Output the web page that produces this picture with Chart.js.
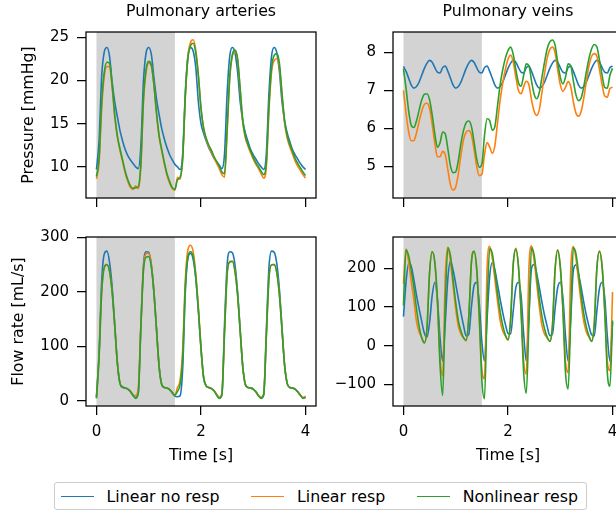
<!DOCTYPE html>
<html>
<head>
<meta charset="utf-8">
<script src="https://cdn.jsdelivr.net/npm/chart.js@4.4.1/dist/chart.umd.min.js"></script>
<style>
  html, body { margin: 0; padding: 0; background: #fff; }
  body { width: 616px; height: 512px; position: relative; overflow: hidden; font-family: "DejaVu Sans", sans-serif; }
  canvas { position: absolute; }
  #legend {
    position: absolute; left: 54px; top: 482px; height: 28px;
    box-sizing: border-box; border: 1px solid #cccccc; border-radius: 3px;
    display: inline-flex; align-items: center; padding: 0 8px 0 6px;
    font-size: 15.8px; color: #000; white-space: nowrap;
  }
  #legend .item { display: flex; align-items: center; margin-right: 32px; }
  #legend .item:last-child { margin-right: 0; }
  #legend .swatch { width: 33px; height: 0; border-top: 1.6px solid; margin-right: 12.5px; }
</style>
</head>
<body>
<canvas id="paPressure" width="320" height="215" style="left:0;top:0"></canvas>
<canvas id="pvPressure" width="330" height="215" style="left:300px;top:0"></canvas>
<canvas id="paFlow" width="320" height="250" style="left:0;top:220px"></canvas>
<canvas id="pvFlow" width="330" height="250" style="left:300px;top:220px"></canvas>
<div id="legend"></div>
<script>
const FONT = 'DejaVu Sans';
const TICK_SIZE = 15;
const LABEL_SIZE = 15.8;

const seriesNames = ['Linear no resp', 'Linear resp', 'Nonlinear resp'];
const seriesColors = ['#1f77b4', '#ff7f0e', '#2ca02c'];

// breath-hold window shaded in grey
const shadeStart = 0;
const shadeEnd = 1.5;

const timeTicks = [0, 2, 4];
const pressurePaTicks = [10, 15, 20, 25];
const pressurePvTicks = [5, 6, 7, 8];
const flowPaTicks = [0, 100, 200, 300];
const flowPvTicks = [-100, 0, 100, 200];

// sample times [s]
const time = [
  0, 0.05, 0.1, 0.15, 0.2, 0.25, 0.3, 0.35, 0.4, 0.45,
  0.5, 0.55, 0.6, 0.65, 0.7, 0.75, 0.8, 0.85, 0.9, 0.95,
  1, 1.05, 1.1, 1.15, 1.2, 1.25, 1.3, 1.35, 1.4, 1.45,
  1.5, 1.55, 1.6, 1.65, 1.7, 1.75, 1.8, 1.85, 1.9, 1.95,
  2, 2.05, 2.1, 2.15, 2.2, 2.25, 2.3, 2.35, 2.4, 2.45,
  2.5, 2.55, 2.6, 2.65, 2.7, 2.75, 2.8, 2.85, 2.9, 2.95,
  3, 3.05, 3.1, 3.15, 3.2, 3.25, 3.3, 3.35, 3.4, 3.45,
  3.5, 3.55, 3.6, 3.65, 3.7, 3.75, 3.8, 3.85, 3.9, 3.95,
  4
];

// pulmonary artery pressure [mmHg]
const paPressureLinNoResp = [
  9.7, 13.0, 20.5, 23.3, 23.8, 22.8, 19.8, 17.5, 15.8, 14.2,
  13.0, 12.0, 11.3, 10.8, 10.4, 10.0, 9.8, 12.5, 20.0, 23.2,
  23.8, 23.0, 20.3, 17.8, 16.0, 14.4, 13.2, 12.2, 11.4, 10.8,
  10.3, 10.0, 9.7, 11.5, 18.5, 22.8, 23.8, 23.4, 21.5, 17.5,
  15.0, 13.9, 13.0, 12.2, 11.6, 11.0, 10.6, 10.2, 9.8, 11.5,
  18.5, 22.8, 23.8, 23.2, 21.0, 17.5, 15.3, 13.9, 12.9, 12.0,
  11.4, 10.9, 10.4, 10.0, 9.7, 11.5, 18.5, 22.8, 23.8, 23.2,
  21.0, 17.5, 15.3, 13.9, 12.9, 12.0, 11.4, 10.9, 10.4, 10.0,
  9.7
];
const paPressureLinResp = [
  8.6, 10.5, 16.8, 20.5, 21.6, 21.6, 19.2, 15.8, 13.4, 11.9,
  10.6, 9.3, 8.3, 7.6, 7.4, 7.8, 7.5, 10.0, 17.6, 21.0,
  22.0, 21.7, 19.4, 16.0, 13.4, 11.8, 10.3, 9.0, 8.1, 7.5,
  7.3, 8.8, 8.6, 11.0, 18.0, 22.8, 24.4, 24.7, 23.5, 20.6,
  16.7, 14.4, 13.2, 12.3, 11.7, 11.0, 10.4, 9.8, 9.1, 8.8,
  14.0, 20.2, 22.8, 23.3, 22.4, 18.8, 15.1, 13.3, 12.4, 11.6,
  10.9, 10.3, 9.8, 9.2, 8.7, 10.0, 16.5, 21.0, 22.3, 22.5,
  21.5, 18.2, 15.0, 13.3, 12.3, 11.5, 10.7, 10.1, 9.6, 9.1,
  8.7
];
const paPressureNonlinResp = [
  8.9, 11.0, 17.5, 21.0, 22.1, 22.0, 19.5, 16.0, 13.6, 12.1,
  10.8, 9.5, 8.5, 7.8, 7.5, 7.6, 7.7, 10.5, 18.0, 21.3,
  22.2, 21.8, 19.5, 16.2, 13.6, 12.0, 10.5, 9.2, 8.3, 7.6,
  7.4, 8.5, 8.8, 11.0, 18.3, 22.6, 24.0, 24.3, 23.2, 20.5,
  16.8, 14.5, 13.3, 12.5, 11.9, 11.2, 10.6, 10.1, 9.4, 9.2,
  14.5, 20.5, 23.0, 23.5, 22.5, 19.0, 15.3, 13.5, 12.6, 11.8,
  11.1, 10.5, 10.0, 9.5, 9.1, 10.5, 17.0, 21.5, 22.9, 23.1,
  22.0, 18.5, 15.3, 13.6, 12.6, 11.8, 11.0, 10.4, 9.9, 9.4,
  9.0
];

// pulmonary vein pressure [mmHg]
const pvPressureLinNoResp = [
  7.63, 7.50, 7.32, 7.14, 7.06, 7.10, 7.22, 7.40, 7.58, 7.72,
  7.79, 7.74, 7.60, 7.48, 7.46, 7.60, 7.64, 7.50, 7.32, 7.14,
  7.06, 7.10, 7.22, 7.40, 7.58, 7.72, 7.79, 7.74, 7.60, 7.48,
  7.46, 7.60, 7.64, 7.50, 7.32, 7.14, 7.06, 7.10, 7.22, 7.40,
  7.58, 7.72, 7.79, 7.74, 7.60, 7.48, 7.46, 7.60, 7.64, 7.50,
  7.32, 7.14, 7.06, 7.10, 7.22, 7.40, 7.58, 7.72, 7.79, 7.74,
  7.60, 7.48, 7.46, 7.60, 7.64, 7.50, 7.32, 7.14, 7.06, 7.10,
  7.22, 7.40, 7.58, 7.72, 7.79, 7.74, 7.60, 7.48, 7.46, 7.60,
  7.64
];
const pvPressureLinResp = [
  7.00, 6.40, 5.90, 5.67, 5.68, 5.88, 6.18, 6.45, 6.63, 6.66,
  6.52, 6.10, 5.60, 5.25, 5.25, 5.39, 5.30, 4.90, 4.50, 4.37,
  4.45, 4.80, 5.30, 5.70, 5.90, 5.94, 5.82, 5.45, 5.00, 4.75,
  4.78, 5.30, 5.62, 5.50, 5.34, 5.55, 6.15, 6.75, 7.20, 7.55,
  7.82, 7.93, 7.75, 7.35, 7.00, 6.91, 7.10, 7.24, 7.15, 6.75,
  6.45, 6.34, 6.50, 6.95, 7.45, 7.85, 8.08, 8.14, 8.00, 7.55,
  7.15, 6.97, 7.08, 7.23, 7.10, 6.70, 6.40, 6.32, 6.45, 6.80,
  7.25, 7.65, 7.90, 7.97, 7.90, 7.55, 7.15, 6.85, 6.82, 7.05,
  7.08
];
const pvPressureNonlinResp = [
  7.57, 7.05, 6.45, 6.07, 6.02, 6.20, 6.48, 6.75, 6.90, 6.91,
  6.75, 6.35, 5.85, 5.50, 5.62, 5.90, 5.85, 5.45, 5.00, 4.83,
  4.85, 5.15, 5.60, 5.95, 6.15, 6.19, 6.05, 5.65, 5.20, 4.97,
  5.05, 5.80, 6.25, 6.20, 5.95, 6.05, 6.60, 7.15, 7.55, 7.85,
  8.05, 8.14, 7.95, 7.55, 7.20, 7.11, 7.40, 7.70, 7.65, 7.25,
  6.90, 6.78, 6.95, 7.35, 7.75, 8.10, 8.28, 8.33, 8.20, 7.75,
  7.35, 7.17, 7.35, 7.70, 7.65, 7.25, 6.88, 6.73, 6.80, 7.10,
  7.50, 7.85, 8.10, 8.21, 8.15, 7.80, 7.40, 7.08, 7.06, 7.40,
  7.58
];

// pulmonary artery flow rate [mL/s]
const paFlowLinNoResp = [
  7, 90, 220, 270, 275, 255, 210, 140, 70, 32,
  25, 24, 22, 17, 10, 6, 15, 140, 250, 274,
  273, 250, 200, 130, 62, 30, 25, 24, 21, 15,
  9, 8, 10, 60, 200, 262, 271, 260, 225, 165,
  95, 42, 28, 25, 23, 19, 12, 6, 12, 140,
  250, 274, 272, 250, 200, 130, 62, 30, 25, 24,
  22, 17, 10, 6, 12, 130, 245, 275, 273, 252,
  205, 135, 65, 32, 25, 24, 22, 17, 11, 6,
  8
];
const paFlowLinResp = [
  7, 82, 202, 246, 251, 238, 200, 138, 70, 33,
  26, 24, 22, 18, 11, 10, 24, 138, 246, 270,
  271, 250, 200, 130, 62, 30, 25, 24, 21, 16,
  11, 25, 38, 95, 222, 278, 286, 274, 234, 170,
  98, 44, 28, 25, 23, 19, 12, 7, 14, 127,
  235, 256, 257, 239, 195, 128, 62, 30, 25, 24,
  22, 17, 10, 7, 13, 120, 226, 250, 251, 236,
  195, 130, 65, 32, 25, 24, 22, 17, 11, 7,
  9
];
const paFlowNonlinResp = [
  5, 80, 200, 245, 250, 238, 200, 138, 70, 33,
  26, 24, 22, 18, 11, 5, 15, 135, 240, 264,
  265, 246, 198, 130, 62, 30, 25, 24, 21, 16,
  11, 18, 30, 80, 210, 265, 274, 265, 228, 168,
  97, 44, 28, 25, 23, 19, 11, 5, 12, 125,
  232, 255, 256, 238, 195, 128, 62, 30, 25, 24,
  22, 17, 10, 5, 12, 118, 225, 250, 250, 235,
  195, 130, 65, 32, 25, 24, 22, 17, 11, 5,
  6
];

// pulmonary vein flow rate [mL/s]
const pvFlowLinNoResp = [
  75, 165, 213, 205, 170, 130, 95, 62, 32, 22,
  60, 130, 164, 120, 20, -40, 60, 175, 219, 195,
  160, 122, 85, 52, 25, 30, 100, 155, 164, 110,
  10, -40, 70, 180, 215, 195, 158, 120, 85, 55,
  32, 30, 90, 150, 164, 130, 30, -40, 80, 200,
  210, 185, 150, 112, 78, 50, 26, 30, 95, 150,
  164, 125, 25, -40, 70, 195, 209, 185, 150, 112,
  78, 50, 28, 25, 90, 148, 164, 125, 25, -40,
  60
];
const pvFlowLinResp = [
  160, 250, 215, 165, 117, 62, 35, 22, 8, 45,
  190, 243, 215, 110, -30, -78, 180, 255, 215, 155,
  95, 50, 30, 20, 12, 75, 215, 244, 200, 70,
  -60, -86, 200, 257, 225, 170, 115, 65, 38, 25,
  15, 65, 210, 252, 205, 90, -40, -74, 200, 258,
  220, 160, 100, 52, 30, 20, 12, 50, 195, 248,
  205, 95, -40, -70, 195, 256, 225, 168, 110, 62,
  35, 22, 12, 55, 200, 245, 205, 90, -40, -65,
  139
];
const pvFlowNonlinResp = [
  104, 248, 232, 195, 150, 95, 50, 20, 7, 45,
  190, 243, 215, 120, -50, -129, 110, 253, 232, 170,
  112, 65, 38, 20, 15, 75, 215, 244, 200, 80,
  -90, -137, 95, 251, 238, 190, 135, 88, 52, 28,
  15, 70, 210, 249, 205, 90, -70, -123, 60, 253,
  235, 180, 122, 76, 43, 22, 11, 50, 195, 246,
  205, 95, -70, -112, 70, 253, 238, 188, 132, 82,
  48, 25, 11, 55, 200, 243, 205, 95, -70, -105,
  65
];

Chart.defaults.font.family = FONT;
Chart.defaults.font.size = TICK_SIZE;
Chart.defaults.color = '#000';

const shadePlugin = {
  id: 'shade',
  beforeDatasetsDraw(chart, args, opts) {
    const {ctx, chartArea: a, scales: {x}} = chart;
    const x0 = x.getPixelForValue(opts.from);
    const x1 = x.getPixelForValue(opts.to);
    ctx.save();
    ctx.fillStyle = opts.color;
    ctx.fillRect(x0, a.top, x1 - x0, a.bottom - a.top);
    ctx.restore();
  }
};

// box around the plot area (all four spines)
const framePlugin = {
  id: 'frame',
  afterDatasetsDraw(chart, args, opts) {
    const {ctx, chartArea: a} = chart;
    ctx.save();
    ctx.strokeStyle = '#000';
    ctx.lineWidth = opts.width;
    ctx.strokeRect(a.left, a.top, a.right - a.left, a.bottom - a.top);
    ctx.restore();
  }
};

const titlePlugin = {
  id: 'panelTitle',
  afterDraw(chart, args, opts) {
    if (!opts.text) return;
    const {ctx, chartArea: a} = chart;
    ctx.save();
    ctx.font = LABEL_SIZE + 'px "' + FONT + '"';
    ctx.fillStyle = '#000';
    ctx.textAlign = 'center';
    ctx.textBaseline = 'middle';
    ctx.fillText(opts.text, (a.left + a.right) / 2, opts.y);
    ctx.restore();
  }
};

const minusSign = v => String(v).replace('-', '\u2212');

function makePanel(id, cfg) {
  const datasets = cfg.series.map((vals, i) => ({
    label: seriesNames[i],
    data: time.map((t, k) => ({x: t, y: vals[k]})),
    borderColor: seriesColors[i],
    borderWidth: 1.6,
    pointRadius: 0,
    cubicInterpolationMode: 'monotone',
    order: 3 - i
  }));

  new Chart(document.getElementById(id), {
    type: 'line',
    data: {datasets},
    options: {
      responsive: false,
      animation: false,
      events: [],
      layout: {padding: {left: 0, top: cfg.padTop, right: cfg.padRight, bottom: 0}},
      plugins: {
        legend: {display: false},
        tooltip: {enabled: false},
        shade: {from: shadeStart, to: shadeEnd, color: '#d3d3d3'},
        frame: {width: 1.25},
        panelTitle: {text: cfg.title, y: 12}
      },
      scales: {
        x: {
          type: 'linear',
          min: -0.2,
          max: 4.2,
          afterBuildTicks: s => { s.ticks = timeTicks.map(v => ({value: v})); },
          afterFit: s => { s.height = cfg.xh; },
          border: {display: false},
          grid: {drawOnChartArea: false, color: '#000', lineWidth: 1.25, tickLength: 9},
          ticks: {display: cfg.xLabels, padding: 8, maxRotation: 0, autoSkip: false},
          title: {display: cfg.xLabels, text: 'Time [s]', font: {size: LABEL_SIZE},
                  padding: {top: 0, bottom: 4.2}}
        },
        y: {
          type: 'linear',
          min: cfg.yMin,
          max: cfg.yMax,
          afterBuildTicks: s => { s.ticks = cfg.yTicks.map(v => ({value: v})); },
          afterFit: s => { s.width = cfg.yw; },
          border: {display: false},
          grid: {drawOnChartArea: false, color: '#000', lineWidth: 1.25, tickLength: 9},
          ticks: {padding: 8, autoSkip: false, callback: minusSign},
          title: {display: !!cfg.yTitle, text: cfg.yTitle || '', font: {size: LABEL_SIZE},
                  padding: {top: cfg.yTitlePad, bottom: 0}}
        }
      }
    },
    plugins: [shadePlugin, framePlugin, titlePlugin]
  });
}

makePanel('paPressure', {
  series: [paPressureLinNoResp, paPressureLinResp, paPressureNonlinResp],
  title: 'Pulmonary arteries', yTitle: 'Pressure [mmHg]', yTitlePad: 19.5,
  yMin: 6.4, yMax: 25.6, yTicks: pressurePaTicks,
  padTop: 32, padRight: 4, yw: 86, xh: 12, xLabels: false
});
makePanel('pvPressure', {
  series: [pvPressureLinNoResp, pvPressureLinResp, pvPressureNonlinResp],
  title: 'Pulmonary veins', yTitle: null, yTitlePad: 0,
  yMin: 4.16, yMax: 8.54, yTicks: pressurePvTicks,
  padTop: 32, padRight: 7, yw: 93, xh: 12, xLabels: false
});
makePanel('paFlow', {
  series: [paFlowLinNoResp, paFlowLinResp, paFlowNonlinResp],
  title: null, yTitle: 'Flow rate [mL/s]', yTitlePad: 9.8,
  yMin: -9, yMax: 301, yTicks: flowPaTicks,
  padTop: 14, padRight: 4, yw: 86, xh: 64, xLabels: true
});
makePanel('pvFlow', {
  series: [pvFlowLinNoResp, pvFlowLinResp, pvFlowNonlinResp],
  title: null, yTitle: null, yTitlePad: 0,
  yMin: -156, yMax: 281, yTicks: flowPvTicks,
  padTop: 14, padRight: 7, yw: 93, xh: 64, xLabels: true
});

// legend shared by all four panels
const legend = document.getElementById('legend');
seriesNames.forEach((name, i) => {
  const item = document.createElement('div');
  item.className = 'item';
  const sw = document.createElement('span');
  sw.className = 'swatch';
  sw.style.borderTopColor = seriesColors[i];
  const label = document.createElement('span');
  label.textContent = name;
  item.appendChild(sw);
  item.appendChild(label);
  legend.appendChild(item);
});
</script>
</body>
</html>
